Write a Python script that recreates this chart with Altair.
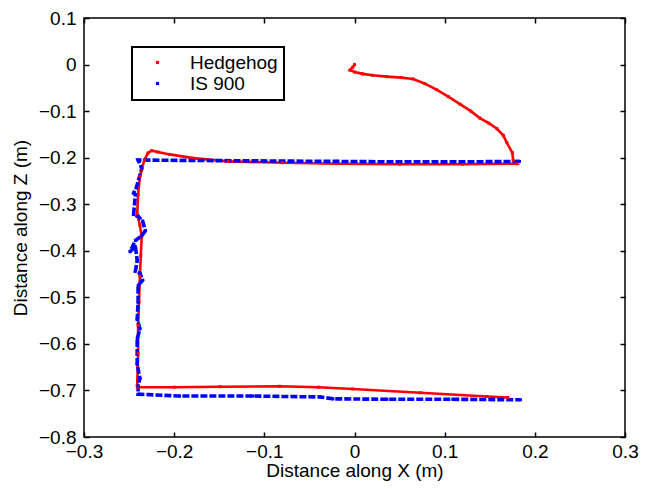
import altair as alt
import pandas as pd

# ---- data ----
series_names = ["Hedgehog", "IS 900"]

hedgehog_x = [0.000, -0.002, -0.005, 0.000, 0.009, 0.020, 0.036, 0.052, 0.065, 0.078,
              0.091, 0.104, 0.117, 0.129, 0.139, 0.149, 0.158, 0.165, 0.169, 0.175,
              0.176, 0.180, 0.120, 0.050, -0.020, -0.080, -0.140, -0.179, -0.205, -0.218,
              -0.225, -0.229, -0.233, -0.236, -0.238, -0.240, -0.241, -0.238, -0.236, -0.237,
              -0.238, -0.239, -0.240, -0.240, -0.241, -0.240, -0.200, -0.149, -0.083, -0.040,
              -0.002, 0.073, 0.147, 0.170]
hedgehog_z = [0.000, -0.006, -0.012, -0.016, -0.020, -0.023, -0.026, -0.028, -0.031, -0.041,
              -0.054, -0.069, -0.085, -0.100, -0.115, -0.126, -0.138, -0.152, -0.168, -0.189,
              -0.206, -0.213, -0.214, -0.214, -0.213, -0.211, -0.208, -0.201, -0.193, -0.188,
              -0.185, -0.190, -0.205, -0.225, -0.240, -0.279, -0.322, -0.345, -0.370, -0.410,
              -0.454, -0.510, -0.560, -0.620, -0.690, -0.693, -0.693, -0.692, -0.691, -0.693,
              -0.697, -0.705, -0.713, -0.715]

is900_x = [0.183, 0.120, 0.050, -0.020, -0.100, -0.180, -0.240, -0.236, -0.242, -0.245,
           -0.243, -0.245, -0.240, -0.235, -0.232, -0.236, -0.243, -0.249, -0.243, -0.241,
           -0.243, -0.238, -0.235, -0.240, -0.240, -0.241, -0.238, -0.241, -0.241, -0.238,
           -0.240, -0.240, -0.194, -0.113, -0.038, -0.024, 0.036, 0.109, 0.184]
is900_z = [-0.208, -0.209, -0.209, -0.208, -0.207, -0.206, -0.205, -0.223, -0.265, -0.276,
           -0.279, -0.322, -0.326, -0.336, -0.357, -0.368, -0.378, -0.402, -0.391, -0.421,
           -0.444, -0.448, -0.463, -0.475, -0.511, -0.547, -0.568, -0.589, -0.644, -0.674,
           -0.690, -0.708, -0.712, -0.712, -0.714, -0.718, -0.719, -0.719, -0.720]

x_ticks = [-0.3, -0.2, -0.1, 0, 0.1, 0.2, 0.3]
z_ticks = [-0.8, -0.7, -0.6, -0.5, -0.4, -0.3, -0.2, -0.1, 0, 0.1]
series_colors = ["#ff0000", "#0000ff"]

# ---- tables ----
df_h = pd.DataFrame({"x": hedgehog_x, "z": hedgehog_z, "series": series_names[0],
                     "order": range(len(hedgehog_x))})
df_i = pd.DataFrame({"x": is900_x, "z": is900_z, "series": series_names[1],
                     "order": range(len(is900_x))})
df_all = pd.concat([df_h, df_i], ignore_index=True)

FONT = "Liberation Sans"
FS = 19

x_scale = alt.Scale(domain=[x_ticks[0], x_ticks[-1]], nice=False, zero=False)
y_scale = alt.Scale(domain=[z_ticks[0], z_ticks[-1]], nice=False, zero=False)

tick_style = dict(domain=False, grid=False, ticks=True, tickSize=5, offset=-5,
                  tickColor="black", tickWidth=1.5)

x_bottom = alt.Axis(orient="bottom", values=x_ticks, format="~g", labelFont=FONT,
                    labelFontSize=FS, labelColor="black", labelPadding=5,
                    labelFlush=False, labelOverlap=False,
                    title="Distance along X (m)", titleFont=FONT, titleFontSize=FS,
                    titleFontWeight="normal", titleColor="black", titlePadding=0,
                    **tick_style)
y_left = alt.Axis(orient="left", values=z_ticks, format="~g", labelFont=FONT,
                  labelFontSize=FS, labelColor="black", labelPadding=8,
                  labelFlush=False, labelOverlap=False,
                  title="Distance along Z (m)", titleFont=FONT, titleFontSize=FS,
                  titleFontWeight="normal", titleColor="black", titlePadding=8,
                  **tick_style)
x_top = alt.Axis(orient="top", values=x_ticks, labels=False, title=None, **tick_style)
y_right = alt.Axis(orient="right", values=z_ticks, labels=False, title=None, **tick_style)

red_line = alt.Chart(df_h).mark_line(color=series_colors[0], strokeWidth=2.6).encode(
    x=alt.X("x:Q", scale=x_scale, axis=x_bottom),
    y=alt.Y("z:Q", scale=y_scale, axis=y_left),
    order="order:Q",
)

blue_line = alt.Chart(df_i).mark_line(color=series_colors[1], strokeWidth=3.6,
                                      strokeDash=[7, 2]).encode(
    x=alt.X("x:Q", scale=x_scale, axis=x_top),
    y=alt.Y("z:Q", scale=y_scale, axis=y_right),
    order="order:Q",
)

legend_pts = alt.Chart(df_all).mark_square(size=9, opacity=1).encode(
    x=alt.X("x:Q", scale=x_scale, axis=None),
    y=alt.Y("z:Q", scale=y_scale, axis=None),
    color=alt.Color("series:N",
                    scale=alt.Scale(domain=series_names, range=series_colors),
                    legend=alt.Legend(orient="none", legendX=48, legendY=29, title=None,
                                      strokeColor="black", padding=6, symbolOffset=10,
                                      labelOffset=23, rowPadding=1, symbolSize=10,
                                      symbolType="square", labelFont=FONT,
                                      labelFontSize=FS, labelColor="black",
                                      fillColor="white")),
)

chart = alt.layer(red_line, blue_line, legend_pts).resolve_axis(
    x="independent", y="independent"
).properties(
    width=541, height=419,
    autosize=alt.AutoSizeParams(type="none"),
    padding={"left": 76, "top": 10, "right": 20, "bottom": 52},
).configure_view(stroke="black", strokeWidth=1.5).configure_legend(strokeWidth=2)

chart.save("out.html", embed_options={"renderer": "svg", "actions": False})
